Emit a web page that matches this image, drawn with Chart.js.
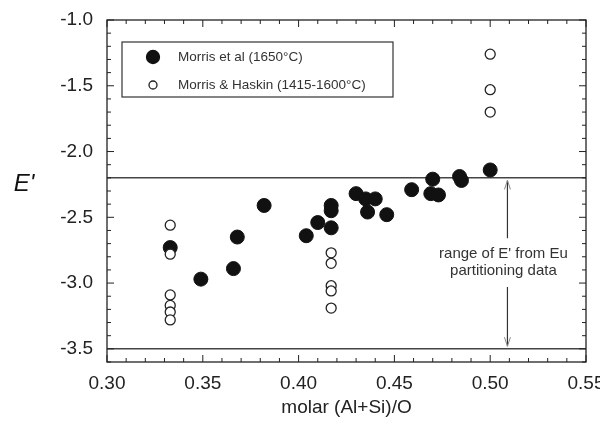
<!DOCTYPE html>
<html>
<head>
<meta charset="utf-8">
<script src="https://cdn.jsdelivr.net/npm/chart.js@4"></script>
<style>
  html, body { margin: 0; padding: 0; background: #fff; }
  #wrap { width: 600px; height: 425px; }
</style>
</head>
<body>
<div id="wrap"><canvas id="myChart"></canvas></div>
<script>
// axis ticks
var xTicks = [0.30, 0.35, 0.40, 0.45, 0.50, 0.55];
var yTicks = [-1.0, -1.5, -2.0, -2.5, -3.0, -3.5];

// Morris et al (1650°C) - filled
var morrisX = [0.333, 0.349, 0.366, 0.368, 0.382, 0.404, 0.410, 0.417, 0.417, 0.417, 0.430,
               0.435, 0.436, 0.440, 0.446, 0.459, 0.469, 0.470, 0.473, 0.484, 0.485, 0.500];
var morrisY = [-2.73, -2.97, -2.89, -2.65, -2.41, -2.64, -2.54, -2.41, -2.45, -2.58, -2.32,
               -2.36, -2.46, -2.36, -2.48, -2.29, -2.32, -2.21, -2.33, -2.19, -2.22, -2.14];

// Morris & Haskin (1415-1600°C) - open
var haskinX = [0.333, 0.333, 0.333, 0.333, 0.333, 0.333, 0.417, 0.417, 0.417, 0.417, 0.417, 0.500, 0.500, 0.500];
var haskinY = [-2.56, -2.78, -3.09, -3.17, -3.22, -3.28, -2.77, -2.85, -3.02, -3.06, -3.19, -1.26, -1.53, -1.70];

// range of E' from Eu partitioning
var rangeTop = -2.2;
var rangeBottom = -3.5;
var arrowX = 0.509;
var arrowUp = [-2.22, -2.66];
var arrowDown = [-3.03, -3.48];
var noteLines = ["range of E' from Eu", "partitioning data"];
var noteY = [-2.78, -2.91];

function pts(xs, ys) {
  var out = [];
  for (var i = 0; i < xs.length; i++) out.push({x: xs[i], y: ys[i]});
  return out;
}

var FONT = "'Liberation Sans', Arial, Helvetica, sans-serif";

var frame = {
  id: 'frame',
  afterDatasetsDraw: function(chart) {
    var c = chart.ctx, a = chart.chartArea;
    var xs = chart.scales.x, ys = chart.scales.y;
    c.save();
    // box
    c.strokeStyle = '#222';
    c.lineWidth = 1.3;
    c.strokeRect(a.left, a.top, a.right - a.left, a.bottom - a.top);
    // ticks
    c.lineWidth = 1;
    c.beginPath();
    var i, p, len;
    for (i = 30; i <= 55; i++) {
      p = xs.getPixelForValue(i / 100);
      len = (i % 5 == 0) ? 7 : 4;
      c.moveTo(p, a.bottom); c.lineTo(p, a.bottom - len);
      c.moveTo(p, a.top); c.lineTo(p, a.top + len);
    }
    for (i = -36; i <= -10; i++) {
      p = ys.getPixelForValue(i / 10);
      len = (i % 5 == 0) ? 7 : 4;
      c.moveTo(a.left, p); c.lineTo(a.left + len, p);
      c.moveTo(a.right, p); c.lineTo(a.right - len, p);
    }
    c.stroke();

    // arrow heads
    var ax = xs.getPixelForValue(arrowX);
    var t1 = ys.getPixelForValue(arrowUp[0]);
    var t2 = ys.getPixelForValue(arrowDown[1]);
    c.strokeStyle = '#888';
    c.lineWidth = 1;
    c.beginPath();
    c.moveTo(ax - 3, t1 + 9); c.lineTo(ax, t1); c.lineTo(ax + 3, t1 + 9);
    c.moveTo(ax - 3, t2 - 9); c.lineTo(ax, t2); c.lineTo(ax + 3, t2 - 9);
    c.stroke();

    // note
    c.fillStyle = '#333';
    c.font = '15px ' + FONT;
    c.textAlign = 'center';
    c.textBaseline = 'middle';
    for (i = 0; i < noteLines.length; i++) {
      c.fillText(noteLines[i], ax - 4, ys.getPixelForValue(noteY[i]));
    }

    // y title, horizontal
    c.fillStyle = '#111';
    c.font = 'italic 24px ' + FONT;
    c.fillText("E'", 24, ys.getPixelForValue(-2.25));

    // legend box
    var lx = a.left + 15, ly = a.top + 22, lw = 271, lh = 55;
    c.fillStyle = '#fff';
    c.fillRect(lx, ly, lw, lh);
    c.strokeStyle = '#333';
    c.lineWidth = 1.2;
    c.strokeRect(lx, ly, lw, lh);
    var ds = [chart.data.datasets[1], chart.data.datasets[0]];
    c.font = '13.5px ' + FONT;
    c.textAlign = 'left';
    for (i = 0; i < ds.length; i++) {
      var yy = ly + 15 + i * 28;
      c.beginPath();
      c.arc(lx + 31, yy, i == 0 ? 6.5 : 4, 0, Math.PI * 2);
      c.fillStyle = ds[i].backgroundColor;
      c.fill();
      c.lineWidth = 1.3;
      c.strokeStyle = ds[i].borderColor;
      c.stroke();
      c.fillStyle = '#333';
      c.fillText(ds[i].label, lx + 56, yy);
    }
    c.restore();
  }
};

var ctx = document.getElementById('myChart');
var chart = new Chart(ctx, {
  type: 'scatter',
  data: {
    datasets: [
      {
        label: 'Morris & Haskin (1415-1600°C)',
        data: pts(haskinX, haskinY),
        backgroundColor: '#fff',
        borderColor: '#222',
        borderWidth: 1.3,
        pointRadius: 5,
        order: 0
      },
      {
        label: 'Morris et al (1650°C)',
        data: pts(morrisX, morrisY),
        backgroundColor: '#111',
        borderColor: '#111',
        borderWidth: 1,
        pointRadius: 7,
        order: 1
      },
      {
        label: 'top',
        data: [{x: xTicks[0], y: rangeTop}, {x: xTicks[xTicks.length - 1], y: rangeTop}],
        showLine: true, pointRadius: 0, borderColor: '#444', borderWidth: 1.5, order: 2
      },
      {
        label: 'bottom',
        data: [{x: xTicks[0], y: rangeBottom}, {x: xTicks[xTicks.length - 1], y: rangeBottom}],
        showLine: true, pointRadius: 0, borderColor: '#444', borderWidth: 1.5, order: 2
      },
      {
        label: 'up',
        data: [{x: arrowX, y: arrowUp[0]}, {x: arrowX, y: arrowUp[1]}],
        showLine: true, pointRadius: 0, borderColor: '#333', borderWidth: 1.2, order: 2
      },
      {
        label: 'down',
        data: [{x: arrowX, y: arrowDown[0]}, {x: arrowX, y: arrowDown[1]}],
        showLine: true, pointRadius: 0, borderColor: '#333', borderWidth: 1.2, order: 2
      }
    ]
  },
  options: {
    responsive: true,
    maintainAspectRatio: false,
    animation: false,
    layout: { padding: { top: 20, right: 14, left: 0, bottom: 0 } },
    plugins: { legend: { display: false }, tooltip: { enabled: false } },
    scales: {
      x: {
        type: 'linear',
        min: 0.30, max: 0.55,
        grid: { display: false, drawTicks: false },
        border: { display: false },
        afterBuildTicks: function(s) { s.ticks = xTicks.map(function(v) { return {value: v}; }); },
        afterFit: function(s) { s.height = 63; s.paddingLeft = 0; s.paddingRight = 0; },
        ticks: {
          padding: 10,
          color: '#222',
          font: { family: FONT, size: 19 },
          maxRotation: 0,
          autoSkip: false,
          callback: function(v) { return Number(v).toFixed(2); }
        },
        title: {
          display: true,
          text: 'molar (Al+Si)/O',
          color: '#222',
          font: { family: FONT, size: 19 },
          padding: { top: 0, bottom: 6 }
        }
      },
      y: {
        type: 'linear',
        min: -3.6, max: -1.0,
        grid: { display: false, drawTicks: false },
        border: { display: false },
        afterBuildTicks: function(s) { s.ticks = yTicks.map(function(v) { return {value: v}; }); },
        afterFit: function(s) { s.width = 107; s.paddingTop = 0; s.paddingBottom = 0; },
        ticks: {
          padding: 14,
          color: '#222',
          font: { family: FONT, size: 19 },
          autoSkip: false,
          callback: function(v) { return Number(v).toFixed(1); }
        }
      }
    }
  },
  plugins: [frame]
});
</script>
</body>
</html>
